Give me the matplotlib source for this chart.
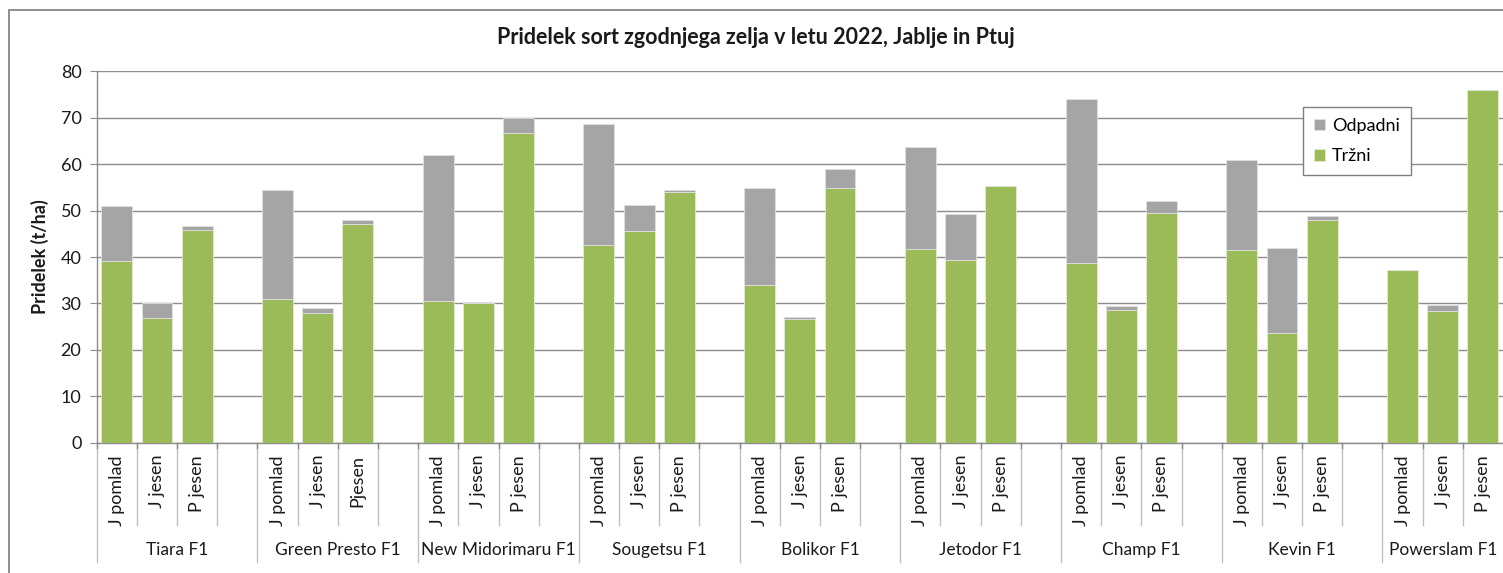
import matplotlib
matplotlib.use("Agg")
import matplotlib.pyplot as plt
from matplotlib.patches import Rectangle
import matplotlib.transforms as mtransforms

plt.rcParams['font.family'] = ['Lato', 'DejaVu Sans']

groups = ["Tiara F1", "Green Presto F1", "New Midorimaru F1", "Sougetsu F1",
          "Bolikor F1", "Jetodor F1", "Champ F1", "Kevin F1", "Powerslam F1"]
sub_labels = [
    ["J pomlad", "J jesen", "P jesen"],
    ["J pomlad", "J jesen", "Pjesen"],
    ["J pomlad", "J jesen", "P jesen"],
    ["J pomlad", "J jesen", "P jesen"],
    ["J pomlad", "J jesen", "P jesen"],
    ["J pomlad", "J jesen", "P jesen"],
    ["J pomlad", "J jesen", "P jesen"],
    ["J pomlad", "J jesen", "P jesen"],
    ["J pomlad", "J jesen", "P jesen"],
]
trzni = [
    [39.2, 26.9, 45.9],
    [31.0, 28.0, 47.1],
    [30.6, 30.0, 66.7],
    [42.6, 45.5, 53.9],
    [33.9, 26.7, 54.9],
    [41.8, 39.4, 55.4],
    [38.7, 28.5, 49.4],
    [41.6, 23.6, 48.0],
    [37.3, 28.4, 76.0],
]
odpadni = [
    [11.8, 3.1, 0.8],
    [23.5, 1.0, 0.9],
    [31.4, 0.4, 3.3],
    [26.0, 5.7, 0.6],
    [20.9, 0.3, 4.1],
    [21.9, 9.9, 0.0],
    [35.4, 1.0, 2.7],
    [19.3, 18.3, 0.9],
    [0.0, 1.2, 0.0],
]
title = "Pridelek sort zgodnjega zelja v letu 2022, Jablje in Ptuj"
ylabel = "Pridelek (t/ha)"

GREEN = "#9BBB59"
GRAY = "#A5A5A5"
LINE = "#8C8C8C"

W, H = 1503, 573
fig = plt.figure(figsize=(W / 100, H / 100), dpi=100)
ax_left, ax_right = 96.7, 1503.0
ax_top, ax_bot = 71.3, 442.7
ax = fig.add_axes([ax_left / W, 1 - ax_bot / H, (ax_right - ax_left) / W, (ax_bot - ax_top) / H])

slots_per_group = 4
n_slots = slots_per_group * (len(groups) - 1) + 3
xs, tr, od = [], [], []
for g in range(len(groups)):
    for i in range(3):
        xs.append(g * slots_per_group + i + 0.5)
        tr.append(trzni[g][i])
        od.append(odpadni[g][i])

bw = 0.77
b1 = ax.bar(xs, tr, width=bw, color=GREEN, edgecolor="#E3EBD0", linewidth=0.6, zorder=3, label="Tržni")
b2 = ax.bar(xs, od, width=bw, bottom=tr, color=GRAY, edgecolor="#E0E0E0", linewidth=0.6, zorder=3, label="Odpadni")

ax.set_xlim(0, n_slots)
ax.set_ylim(0, 80)
ax.set_yticks(range(0, 81, 10))
ax.yaxis.grid(True, color=LINE, linewidth=1.0, zorder=0)
ax.set_axisbelow(True)
for s in ["top", "right"]:
    ax.spines[s].set_visible(False)
ax.spines["left"].set_color(LINE)
ax.spines["bottom"].set_color(LINE)
ax.spines["left"].set_linewidth(1.0)
ax.spines["bottom"].set_linewidth(1.0)
ax.tick_params(axis="y", length=5, color=LINE, labelsize=13, pad=6, labelcolor="#1a1a1a")
ax.set_xticks([])

# multi-level x axis
axh = ax_bot - ax_top
trans = mtransforms.blended_transform_factory(ax.transData, ax.transAxes)
def fy(px):
    return -(px - ax_bot) / axh

for k in range(0, n_slots + 1):
    g_boundary = (k % slots_per_group == 0)
    y_end = fy(562) if g_boundary else fy(525)
    if k == n_slots:
        continue
    ax.plot([k, k], [0, y_end], transform=trans, color="#BFBFBF", lw=1.0, clip_on=False, zorder=1)
    ax.plot([k, k], [0, fy(448)], transform=trans, color=LINE, lw=1.0, clip_on=False, zorder=2)

for g in range(len(groups)):
    for i in range(3):
        ax.text(g * slots_per_group + i + 0.5, fy(455), sub_labels[g][i], transform=trans,
                rotation=90, ha="center", va="top", fontsize=13, color="#1a1a1a")
    nslot = slots_per_group if g < len(groups) - 1 else 3
    ax.text(g * slots_per_group + nslot / 2, fy(550), groups[g], transform=trans,
            ha="center", va="center", fontsize=12.5, color="#1a1a1a")

# legend
handles = [b2, b1]
leg = ax.legend(handles, ["Odpadni", "Tržni"], loc="upper left",
                bbox_to_anchor=((1303 - ax_left) / (ax_right - ax_left), 1 - (107 - ax_top) / axh),
                frameon=True, fancybox=False, edgecolor="#7F7F7F", framealpha=1,
                fontsize=13, handlelength=0.6, handleheight=0.6, handletextpad=0.4,
                labelspacing=0.8, borderpad=0.6, borderaxespad=0)
leg.get_frame().set_linewidth(1.0)

fig.text(756 / W, 1 - 37 / H, title, ha="center", va="center", fontsize=15.5, fontweight="bold", color="#1a1a1a")
fig.text(40 / W, 1 - 257 / H, ylabel, ha="center", va="center", rotation=90, fontsize=13, fontweight="bold", color="#1a1a1a")

# outer chart border
fig.patches.append(Rectangle((9 / W, -0.1), 2, 1 - 10 / H + 0.1, transform=fig.transFigure,
                             fill=False, edgecolor="#868686", linewidth=1.3))

fig.savefig("out.png", dpi=100)
